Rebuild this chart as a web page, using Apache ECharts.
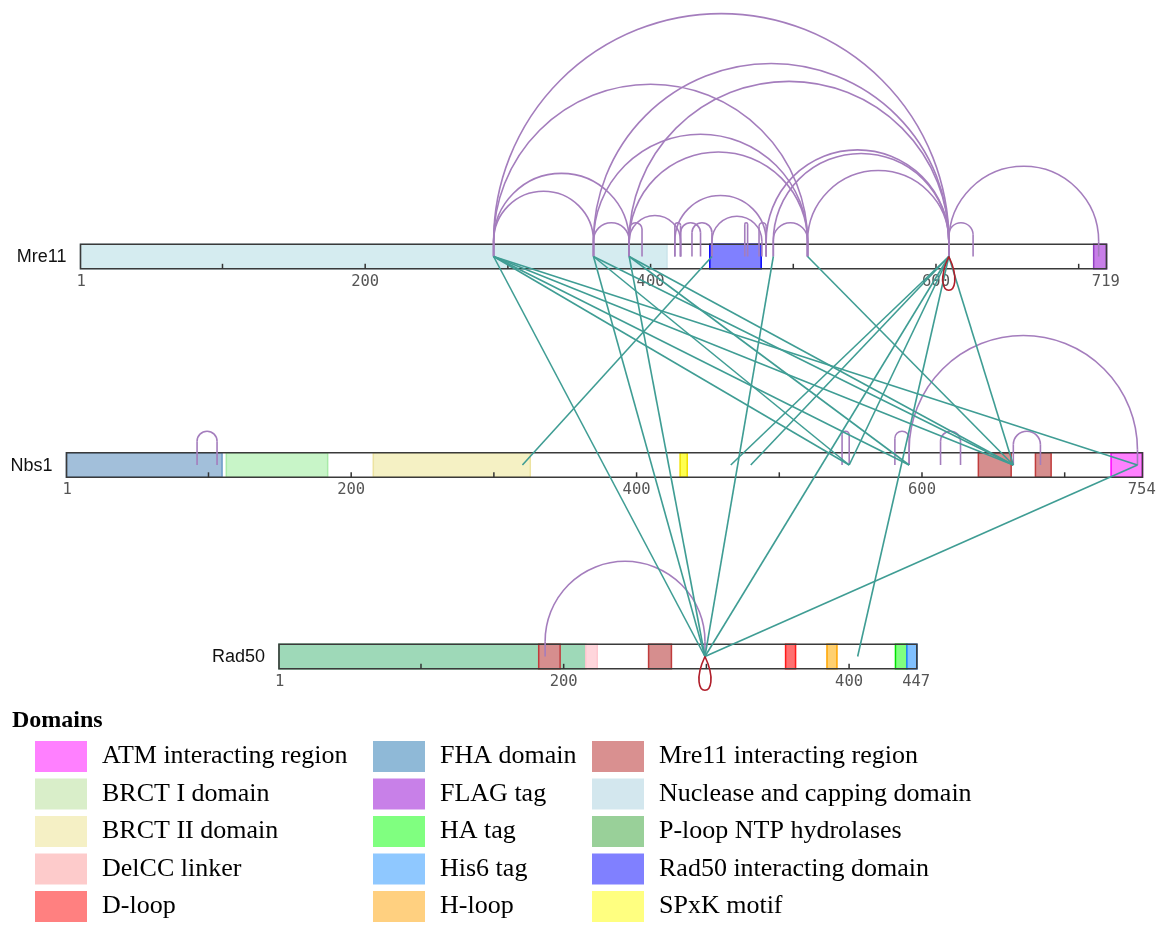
<!DOCTYPE html>
<html>
<head>
<meta charset="utf-8">
<script src="https://cdn.jsdelivr.net/npm/echarts@6/dist/echarts.min.js"></script>
<style>
  html, body { margin: 0; padding: 0; background: #fff; }
  #chart { width: 1158px; height: 926px; }
</style>
</head>
<body>
<div id="chart"></div>
<script>
// ---- data ---------------------------------------------------------------
const proteins = ['Mre11', 'Nbs1', 'Rad50'];
const proteinLengths = [719, 754, 447];

// residues written under each protein bar
const mre11TickLabels = [1, 200, 400, 600, 719];
const nbs1TickLabels = [1, 200, 400, 600, 754];
const rad50TickLabels = [1, 200, 400, 447];
const tickStep = 100;

// domain annotations: [name, first residue, last residue]
const mre11Domains = [
  ['Nuclease and capping domain', 1, 411],
  ['Rad50 interacting domain', 442, 477],
  ['FLAG tag', 711, 719]
];
const nbs1Domains = [
  ['FHA domain', 1, 109],
  ['BRCT I domain', 113, 183],
  ['BRCT II domain', 216, 325],
  ['SPxK motif', 431, 435],
  ['Mre11 interacting region', 640, 662],
  ['Mre11 interacting region', 680, 690],
  ['ATM interacting region', 733, 754]
];
const rad50Domains = [
  ['P-loop NTP hydrolases', 1, 215],
  ['Mre11 interacting region', 183, 197],
  ['DelCC linker', 216, 223],
  ['Mre11 interacting region', 260, 275],
  ['D-loop', 356, 362],
  ['H-loop', 385, 391],
  ['HA tag', 433, 440],
  ['His6 tag', 441, 447]
];

// legend order (three columns of five)
const legendNames = [
  'ATM interacting region', 'BRCT I domain', 'BRCT II domain', 'DelCC linker', 'D-loop',
  'FHA domain', 'FLAG tag', 'HA tag', 'His6 tag', 'H-loop',
  'Mre11 interacting region', 'Nuclease and capping domain', 'P-loop NTP hydrolases',
  'Rad50 interacting domain', 'SPxK motif'
];

// intra-protein crosslinks: [residue, residue]
const mre11SelfLinks = [
  [290, 609], [290, 510], [290, 385], [290, 360],
  [360, 609], [360, 510], [360, 385],
  [385, 609], [385, 510], [385, 421], [385, 394],
  [417, 481], [417, 421], [421, 435], [429, 443], [443, 478],
  [466, 468], [476, 481],
  [481, 609], [486, 609], [486, 510], [510, 609],
  [609, 626], [609, 714]
];
const nbs1SelfLinks = [[92, 106], [544, 549], [581, 591], [613, 627], [664, 683], [591, 751]];
const rad50SelfLinks = [[187, 299]];

// same-residue (homodimeric) links: [protein index, residue]
const homodimerLinks = [[0, 609], [2, 299]];

// inter-protein crosslinks
const mre11Nbs1Links = [
  [290, 549], [290, 591], [290, 664], [290, 751],
  [360, 549], [360, 664],
  [385, 591], [385, 664],
  [443, 320], [510, 664],
  [609, 466], [609, 480], [609, 549], [609, 664]
];
const mre11Rad50Links = [[290, 299], [360, 299], [385, 299], [486, 299], [609, 299], [609, 406]];
const nbs1Rad50Links = [[751, 299]];

// ---- layout & styles -----------------------------------------------------
const W = 1158, H = 926;
const PX_PER_RES = 1.427;
const trackLeftPx = [80.5, 66.5, 279];
const trackStart = trackLeftPx.map(p => p / PX_PER_RES);   // x-axis units
const trackY = [256.5, 465, 656.5];                         // y-axis units
const BAR_HALF = 12.3;

const domainStyle = {
  'ATM interacting region':      { swatch: '#ff80ff', fill: '#ff80ff', stroke: '#ff00ff' },
  'BRCT I domain':               { swatch: '#d9eec9', fill: '#c8f5c8', stroke: '#a8eaa8' },
  'BRCT II domain':              { swatch: '#f5f0c5', fill: '#f5f1c4', stroke: '#ede3a0' },
  'DelCC linker':                { swatch: '#fdcbcb', fill: '#ffd6dc', stroke: '#ffc8d0' },
  'D-loop':                      { swatch: '#ff8080', fill: '#ff7070', stroke: '#ff1a1a' },
  'FHA domain':                  { swatch: '#8fb9d7', fill: '#a2bfda', stroke: '#6b9bc8' },
  'FLAG tag':                    { swatch: '#c880e8', fill: '#c87ee8', stroke: '#9040c0' },
  'HA tag':                      { swatch: '#80ff80', fill: '#80ff80', stroke: '#00e000' },
  'His6 tag':                    { swatch: '#8fc8ff', fill: '#80c0ff', stroke: '#2080ff' },
  'H-loop':                      { swatch: '#ffd080', fill: '#ffd070', stroke: '#ffa500' },
  'Mre11 interacting region':    { swatch: '#d99090', fill: '#d68e8e', stroke: '#c03c3c' },
  'Nuclease and capping domain': { swatch: '#d3e7ee', fill: '#d5ecf0', stroke: '#cbe4ea' },
  'P-loop NTP hydrolases':       { swatch: '#99d099', fill: '#9ed9b8', stroke: '#6cc08c' },
  'Rad50 interacting domain':    { swatch: '#8080ff', fill: '#8080ff', stroke: '#0000ff' },
  'SPxK motif':                  { swatch: '#ffff80', fill: '#ffff50', stroke: '#f0e000' }
};

const SELF_COLOR = '#a47dbd';
const CROSS_COLOR = '#3f9d94';
const LOOP_COLOR = '#b01e2a';
const LINK_WIDTH = 1.6;

// ---- helpers -------------------------------------------------------------
function resX(track, res) { return trackStart[track] + res - 0.5; }
function resPoint(api, track, res) { return api.coord([resX(track, res), trackY[track]]); }

function barRect(api, track, x0, x1) {
  const a = api.coord([x0, trackY[track] - BAR_HALF]);
  const b = api.coord([x1, trackY[track] + BAR_HALF]);
  return { x: a[0], y: a[1], width: b[0] - a[0], height: b[1] - a[1] };
}

const allDomains = [];
[mre11Domains, nbs1Domains, rad50Domains].forEach((list, t) =>
  list.forEach(d => allDomains.push({ track: t, name: d[0], start: d[1], end: d[2] })));

// draw order of domain series (P-loop first so overlays sit on top)
const drawOrder = ['P-loop NTP hydrolases', 'Nuclease and capping domain', 'FHA domain',
  'BRCT I domain', 'BRCT II domain', 'Rad50 interacting domain', 'FLAG tag', 'SPxK motif',
  'Mre11 interacting region', 'ATM interacting region', 'DelCC linker', 'D-loop', 'H-loop',
  'HA tag', 'His6 tag'];

const domainSeries = drawOrder.map(name => ({
  type: 'custom',
  name: name,
  itemStyle: { color: domainStyle[name].swatch },
  data: allDomains.filter(d => d.name === name).map(d => [d.track, d.start, d.end]),
  renderItem: (params, api) => {
    const t = api.value(0), s = api.value(1), e = api.value(2);
    const st = domainStyle[name];
    return {
      type: 'rect',
      shape: barRect(api, t, resX(t, s) - 0.5, resX(t, e) + 0.5),
      style: { fill: st.fill, stroke: st.stroke, lineWidth: 1.5 }
    };
  }
}));

const trackData = proteins.map((p, i) => [i, proteinLengths[i]]);

const tickData = [];
proteinLengths.forEach((L, t) => {
  for (let r = tickStep; r < L; r += tickStep) tickData.push([t, r]);
});
const labelData = [];
[mre11TickLabels, nbs1TickLabels, rad50TickLabels].forEach((list, t) =>
  list.forEach(r => labelData.push([t, r])));

const crossData = []
  .concat(mre11Nbs1Links.map(l => [0, l[0], 1, l[1]]))
  .concat(mre11Rad50Links.map(l => [0, l[0], 2, l[1]]))
  .concat(nbs1Rad50Links.map(l => [1, l[0], 2, l[1]]));

const selfData = []
  .concat(mre11SelfLinks.map(l => [0, l[0], l[1]]))
  .concat(nbs1SelfLinks.map(l => [1, l[0], l[1]]))
  .concat(rad50SelfLinks.map(l => [2, l[0], l[1]]));

const legendBase = {
  orient: 'vertical',
  top: 739,
  icon: 'rect',
  itemWidth: 52,
  itemHeight: 31,
  itemGap: 2.5,
  selectedMode: false,
  padding: 0,
  textStyle: { fontFamily: 'Liberation Serif', fontSize: 26, color: '#000', lineHeight: 31, padding: [4, 0, 0, 10] }
};

const option = {
  animation: false,
  backgroundColor: '#fff',
  title: {
    text: 'Domains', left: 12, top: 709, padding: 0,
    textStyle: { fontFamily: 'Liberation Serif', fontWeight: 'bold', fontSize: 24, color: '#000' }
  },
  legend: [
    Object.assign({}, legendBase, { left: 35, data: legendNames.slice(0, 5) }),
    Object.assign({}, legendBase, { left: 373, data: legendNames.slice(5, 10) }),
    Object.assign({}, legendBase, { left: 592, data: legendNames.slice(10, 15) })
  ],
  grid: { left: 0, right: 0, top: 0, bottom: 0 },
  xAxis: { type: 'value', min: 0, max: W / PX_PER_RES, show: false },
  yAxis: { type: 'value', min: 0, max: H, inverse: true, show: false },
  series: [
    // white protein bars
    {
      type: 'custom', name: 'bars', data: trackData,
      renderItem: (params, api) => {
        const t = api.value(0), L = api.value(1);
        return { type: 'rect', shape: barRect(api, t, trackStart[t], trackStart[t] + L),
                 style: { fill: '#fff', stroke: null } };
      }
    },
    ...domainSeries,
    // bar outlines and protein names
    {
      type: 'custom', name: 'outlines', data: trackData,
      renderItem: (params, api) => {
        const t = api.value(0), L = api.value(1);
        const rect = barRect(api, t, trackStart[t], trackStart[t] + L);
        const mid = api.coord([trackStart[t], trackY[t]]);
        return {
          type: 'group',
          children: [
            { type: 'rect', shape: rect, style: { fill: null, stroke: '#3a3a3a', lineWidth: 1.6 } },
            { type: 'text', x: mid[0] - 14, y: mid[1] + 1,
              style: { text: proteins[t], fontFamily: 'Liberation Sans', fontSize: 18, fill: '#111',
                       align: 'right', verticalAlign: 'middle' } }
          ]
        };
      }
    },
    // ruler ticks
    {
      type: 'custom', name: 'ticks', data: tickData,
      renderItem: (params, api) => {
        const t = api.value(0), r = api.value(1);
        const p = api.coord([resX(t, r), trackY[t] + BAR_HALF]);
        return { type: 'line', shape: { x1: p[0], y1: p[1], x2: p[0], y2: p[1] - 5 },
                 style: { stroke: '#333', lineWidth: 1.5 } };
      }
    },
    // ruler labels
    {
      type: 'custom', name: 'tickLabels', data: labelData,
      renderItem: (params, api) => {
        const t = api.value(0), r = api.value(1);
        const p = api.coord([resX(t, r), trackY[t] + BAR_HALF]);
        return { type: 'text', x: p[0], y: p[1] + 13,
                 style: { text: String(r), fontFamily: 'DejaVu Sans Mono', fontSize: 15.5, fill: '#555',
                          align: 'center', verticalAlign: 'middle' } };
      }
    },
    // intra-protein arcs
    {
      type: 'custom', name: 'selfLinks', data: selfData,
      renderItem: (params, api) => {
        const t = api.value(0);
        const p1 = resPoint(api, t, Math.min(api.value(1), api.value(2)));
        const p2 = resPoint(api, t, Math.max(api.value(1), api.value(2)));
        const top = api.coord([0, trackY[t] - BAR_HALF])[1];
        const r = (p2[0] - p1[0]) / 2;
        const cy = top - 3 - Math.max(0, 18.5 - r);
        const st = { stroke: SELF_COLOR, lineWidth: LINK_WIDTH, fill: null };
        return {
          type: 'group',
          children: [
            { type: 'line', shape: { x1: p1[0], y1: p1[1], x2: p1[0], y2: cy }, style: st },
            { type: 'arc', shape: { cx: p1[0] + r, cy: cy, r: r, startAngle: Math.PI, endAngle: 2 * Math.PI }, style: st },
            { type: 'line', shape: { x1: p2[0], y1: p2[1], x2: p2[0], y2: cy }, style: st }
          ]
        };
      }
    },
    // inter-protein links
    {
      type: 'custom', name: 'crossLinks', data: crossData,
      renderItem: (params, api) => {
        const a = resPoint(api, api.value(0), api.value(1));
        const b = resPoint(api, api.value(2), api.value(3));
        return { type: 'line', shape: { x1: a[0], y1: a[1], x2: b[0], y2: b[1] },
                 style: { stroke: CROSS_COLOR, lineWidth: LINK_WIDTH } };
      }
    },
    // homodimeric same-residue loops
    {
      type: 'custom', name: 'homodimers', data: homodimerLinks,
      renderItem: (params, api) => {
        const p = resPoint(api, api.value(0), api.value(1));
        return { type: 'bezierCurve',
                 shape: { x1: p[0], y1: p[1], x2: p[0], y2: p[1],
                          cpx1: p[0] - 21, cpy1: p[1] + 45, cpx2: p[0] + 21, cpy2: p[1] + 45 },
                 style: { stroke: LOOP_COLOR, lineWidth: LINK_WIDTH, fill: null } };
      }
    }
  ]
};

const chart = echarts.init(document.getElementById('chart'), null, { renderer: 'canvas' });
chart.setOption(option);
</script>
</body>
</html>
